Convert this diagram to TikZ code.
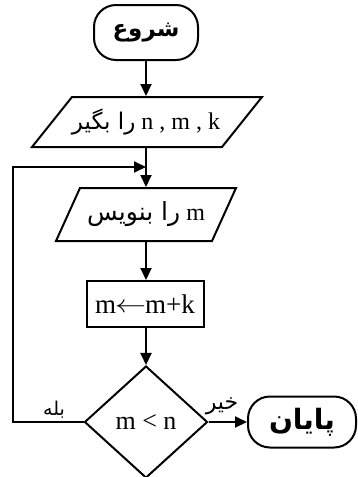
\documentclass[tikz,border=0pt]{standalone}
\usepackage{fontspec}
\usepackage{graphicx}
\setmainfont{Liberation Serif}
\newfontfamily\fa[Script=Arabic]{DejaVu Sans}
\TeXXeTstate=1
\usetikzlibrary{shapes.geometric,arrows.meta}
\begin{document}
\begin{tikzpicture}[x=1pt,y=-1pt, line width=2pt,
  flow/.style={-{Triangle[length=12pt,width=11pt]}},
  term/.style={draw, rounded corners=22pt, inner sep=0pt, font=\fa\bfseries},
  txt/.style={inner sep=0pt, font=\fontsize{24}{28}\selectfont},
  lbl/.style={inner sep=0pt, font=\fa\fontsize{19}{22}\selectfont}]
\useasboundingbox (0,0) rectangle (358,477);
% nodes
\node[term, minimum width=104pt, minimum height=55pt] (start) at (146,32.5) {\fontsize{23}{26}\selectfont\beginR شروع\endR};
\node[txt, minimum width=150pt, minimum height=50pt] (in) at (146,122) {{\fa\fontsize{23}{26}\selectfont\beginR را بگیر\endR}\ n , m , k};
\draw (72,97) -- (262,97) -- (222,147) -- (32,147) -- cycle;
\node[txt, minimum width=130pt, minimum height=53pt] (out) at (146,214.5) {{\fa\fontsize{25}{28}\selectfont\beginR را بنویس\endR}\ m};
\draw (80,188) -- (236,188) -- (212,241) -- (56,241) -- cycle;
\node[txt, draw, minimum width=117pt, minimum height=46pt, font=\fontsize{27}{30}\selectfont] (calc) at (145,304) {m\kern-1pt\raisebox{1pt}{\scalebox{1.25}[1]{$\leftarrow$}}\kern-1pt m+k};
\node[txt, draw, diamond, minimum width=123pt, minimum height=112pt, font=\fontsize{26}{30}\selectfont] (dec) at (146,422) {m < n};
\node[term, minimum width=108pt, minimum height=51pt] (end) at (302,422) {\fontsize{28}{30}\selectfont\beginR پایان\endR};
\coordinate (lp) at (13,167);
\coordinate (j) at (146,167);
% connectors
\draw[flow] (start) -- (in.north);
\draw (in.south) -- (j);
\draw[flow] (j) -- (out.north);
\draw[flow] (out.south) -- (calc.north -| out.south);
\draw[flow] (calc.south -| dec.north) -- (dec);
\draw[flow] (dec.east) -- (end);
\draw[flow] (dec.west) -| (lp) -- (j);
\node[lbl] at (54,410) {\beginR بله\endR};
\node[lbl, font=\fa\fontsize{22}{24}\selectfont] at (222,406) {\beginR خیر\endR};
\end{tikzpicture}
\end{document}
